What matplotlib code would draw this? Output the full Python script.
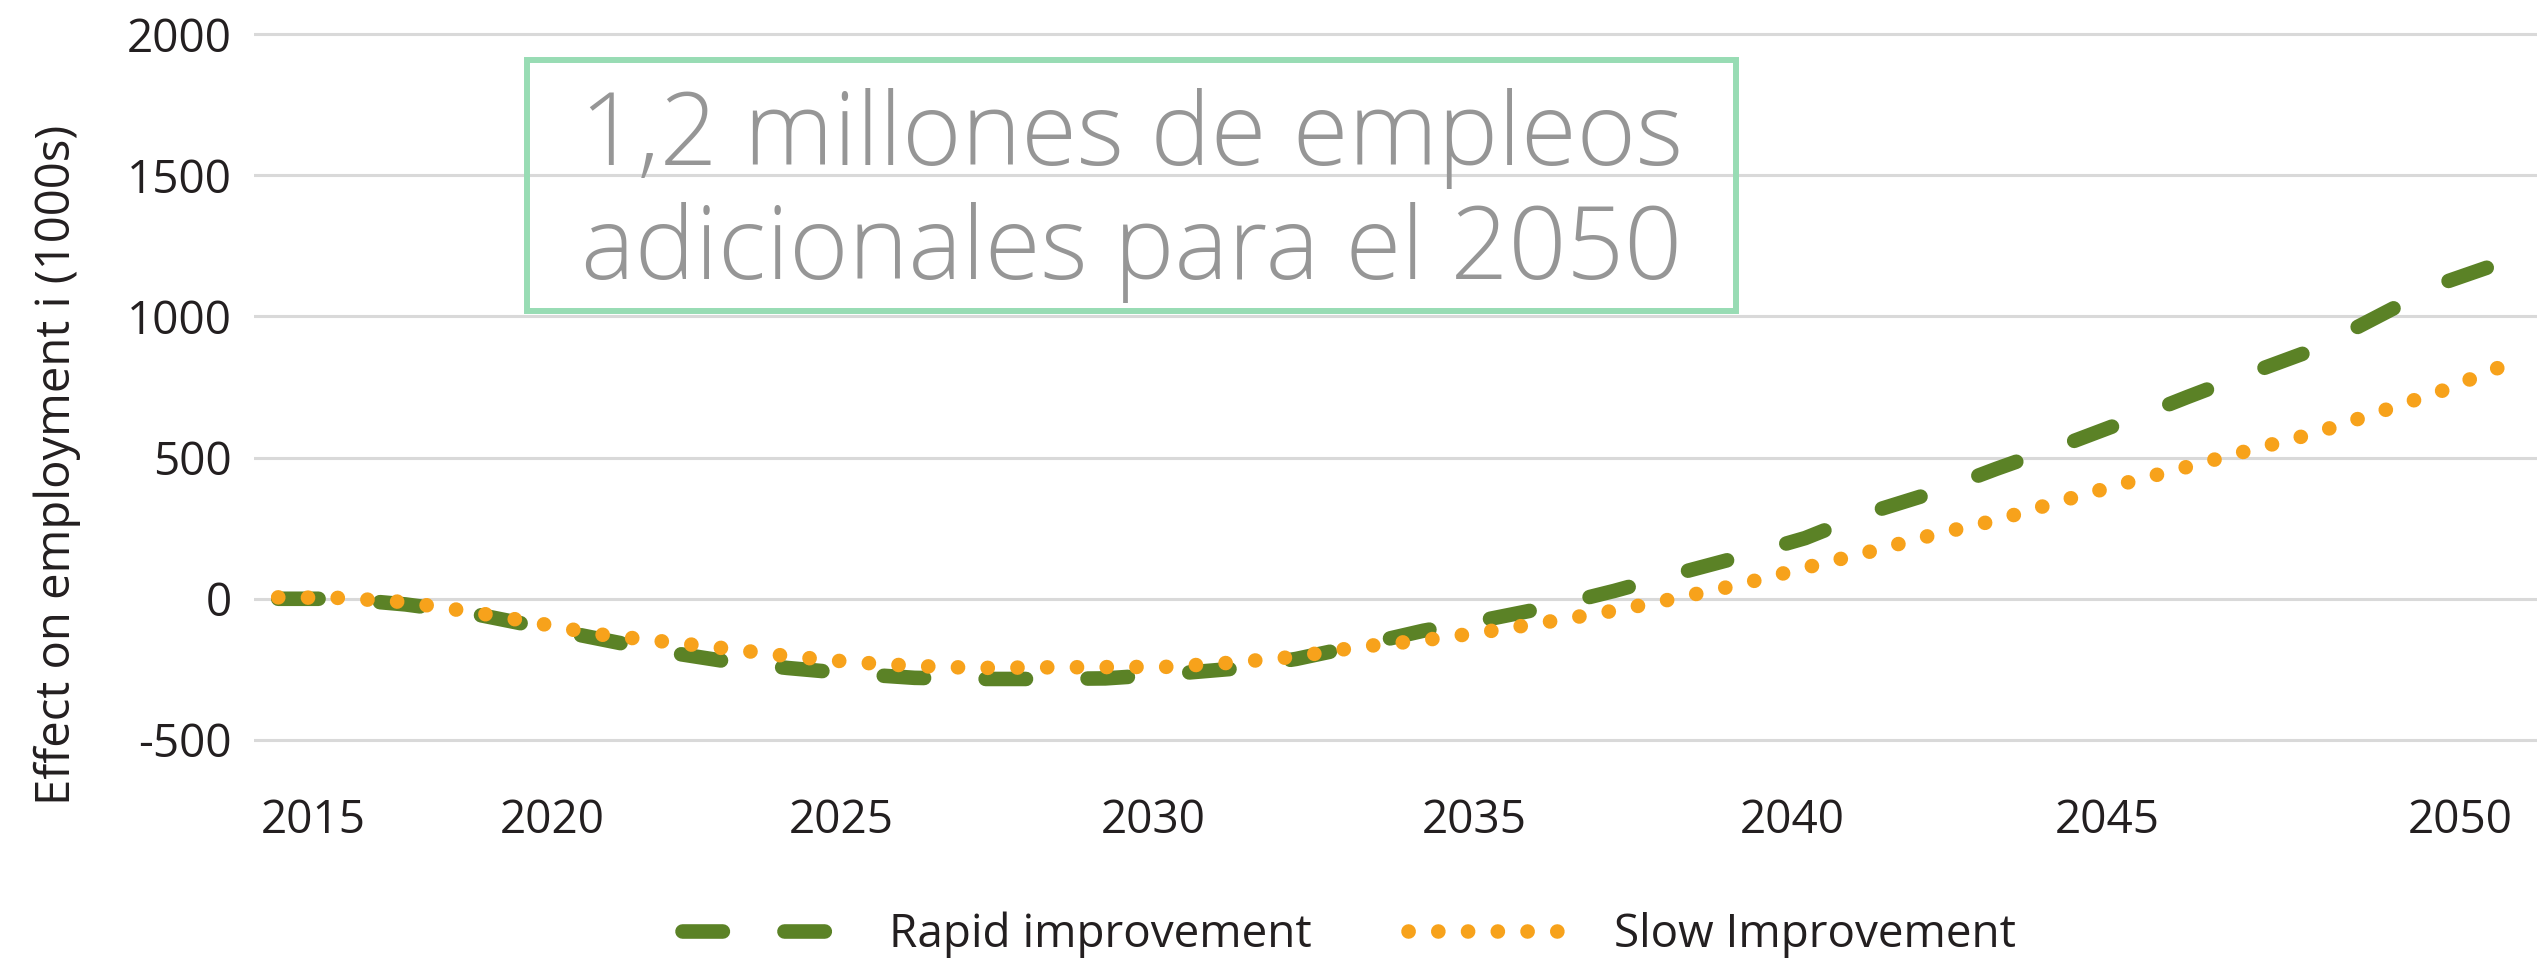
import matplotlib
matplotlib.use("Agg")
import matplotlib.pyplot as plt
from matplotlib.patches import Rectangle

## DATA
years = list(range(2015, 2051))
rapid = [0, 0, -20, -50, -95, -140, -185, -220, -245, -265,
         -280, -284, -284, -282, -267, -248, -213, -165, -113, -73,
         -28, 28, 90, 150, 215, 305, 375, 460, 540, 625,
         714, 800, 883, 1000, 1117, 1195]
slow = [5, 3, -12, -45, -83, -125, -150, -175, -203, -224,
        -238, -245, -243, -242, -241, -226, -205, -170, -147, -116,
        -80, -42, 3, 52, 110, 166, 226, 278, 345, 408,
        467, 527, 586, 660, 736, 828]
series_names = ["Rapid improvement", "Slow Improvement"]
y_ticks = [-500, 0, 500, 1000, 1500, 2000]
x_tick_labels = ["2015", "2020", "2025", "2030", "2035", "2040", "2045", "2050"]
# label positions as drawn in the source (not evenly placed there)
x_tick_pos = [2015.55, 2019.3, 2023.85, 2028.75, 2033.8, 2038.8, 2043.75, 2049.3]
y_label = "Effect on employment i (1000s)"
note_lines = ["1,2 millones de empleos", "adicionales para el 2050"]

GREEN = "#5b8226"
ORANGE = "#f7a21b"
TXT = "#231f20"
W, H = 2537, 966

plt.rcParams['font.family'] = ['Open Sans', 'DejaVu Sans']

fig = plt.figure(figsize=(W / 100, H / 100), dpi=100)
ax = fig.add_axes([254 / W, 1 - 745.6 / H, (W - 254) / W, 717.2 / H])

ax.plot(years, rapid, color=GREEN, lw=10.5, dashes=(2.77, 4.22),
        dash_capstyle='round', label=series_names[0], zorder=3)
ax.plot(years, slow, color=ORANGE, lw=10.5, dashes=(0.01, 2.03),
        dash_capstyle='round', label=series_names[1], zorder=4)

ax.set_xlim(2014.62, 2050.5)
ax.set_ylim(-520, 2020)
ax.set_yticks(y_ticks)
ax.set_yticklabels([str(v) for v in y_ticks])
ax.set_xticks(x_tick_pos)
ax.set_xticklabels(x_tick_labels)
ax.tick_params(axis='both', length=0, labelsize=33, colors=TXT)
ax.tick_params(axis='y', pad=16)
ax.tick_params(axis='x', pad=38)
ax.grid(axis='y', color='#d9d9d9', lw=2.2, zorder=0)
ax.grid(axis='x', visible=False)
for s in ax.spines.values():
    s.set_visible(False)

ax.set_ylabel(y_label, fontsize=34, color=TXT)
ax.yaxis.set_label_coords(-0.0757, 0.391)

# annotation box
box = Rectangle((527 / W, 1 - 311 / H), (1736 - 527) / W, (311 - 60) / H,
                transform=fig.transFigure, fill=False, ec='#98dcb4', lw=4.3,
                zorder=5)
fig.patches.append(box)
cx = (527 + 1736) / 2 / W
for line, base in zip(note_lines, [165, 279]):
    fig.text(cx, 1 - base / H, line, ha='center', va='baseline', fontsize=73,
             color='#969696', family=['Open Sans', 'DejaVu Sans'], weight='light')

fig.legend(loc='center', bbox_to_anchor=(1349 / W, 1 - 935 / H), ncol=2,
           frameon=False, fontsize=33, handlelength=3.5, handletextpad=1.0,
           columnspacing=2.1, labelcolor=TXT)

fig.savefig("out.png", dpi=100)
